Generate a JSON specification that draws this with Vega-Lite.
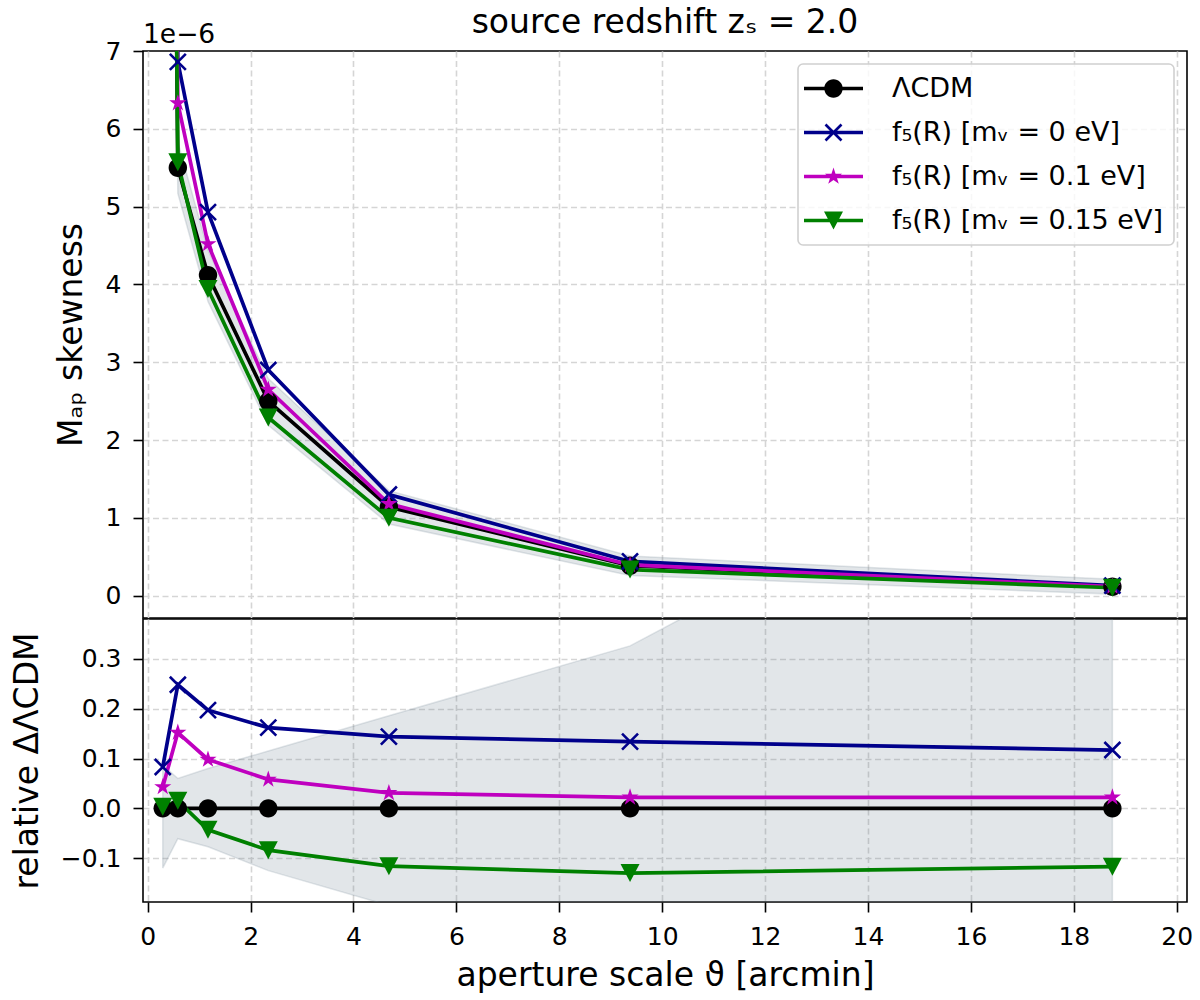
{
  "$schema": "https://vega.github.io/schema/vega-lite/v6.json",
  "background": "white",
  "padding": {"left": 10, "top": 6, "right": 5, "bottom": 5},
  "datasets": {
    "pts": [
      {"x": 0.293, "series": "ΛCDM", "value": 26.0, "rel": 0},
      {"x": 0.586, "series": "ΛCDM", "value": 5.5, "rel": 0},
      {"x": 1.172, "series": "ΛCDM", "value": 4.12, "rel": 0},
      {"x": 2.344, "series": "ΛCDM", "value": 2.5, "rel": 0},
      {"x": 4.688, "series": "ΛCDM", "value": 1.14, "rel": 0},
      {"x": 9.375, "series": "ΛCDM", "value": 0.385, "rel": 0},
      {"x": 18.75, "series": "ΛCDM", "value": 0.115, "rel": 0},
      {"x": 0.293, "series": "f₅(R) [mᵥ = 0 eV]", "value": 28.2, "rel": 0.083},
      {"x": 0.586, "series": "f₅(R) [mᵥ = 0 eV]", "value": 6.86, "rel": 0.248},
      {"x": 1.172, "series": "f₅(R) [mᵥ = 0 eV]", "value": 4.93, "rel": 0.197},
      {"x": 2.344, "series": "f₅(R) [mᵥ = 0 eV]", "value": 2.9, "rel": 0.162},
      {"x": 4.688, "series": "f₅(R) [mᵥ = 0 eV]", "value": 1.3, "rel": 0.144},
      {"x": 9.375, "series": "f₅(R) [mᵥ = 0 eV]", "value": 0.44, "rel": 0.134},
      {"x": 18.75, "series": "f₅(R) [mᵥ = 0 eV]", "value": 0.13, "rel": 0.117},
      {"x": 0.293, "series": "f₅(R) [mᵥ = 0.1 eV]", "value": 27.1, "rel": 0.043},
      {"x": 0.586, "series": "f₅(R) [mᵥ = 0.1 eV]", "value": 6.33, "rel": 0.152},
      {"x": 1.172, "series": "f₅(R) [mᵥ = 0.1 eV]", "value": 4.52, "rel": 0.098},
      {"x": 2.344, "series": "f₅(R) [mᵥ = 0.1 eV]", "value": 2.65, "rel": 0.058},
      {"x": 4.688, "series": "f₅(R) [mᵥ = 0.1 eV]", "value": 1.18, "rel": 0.031},
      {"x": 9.375, "series": "f₅(R) [mᵥ = 0.1 eV]", "value": 0.395, "rel": 0.022},
      {"x": 18.75, "series": "f₅(R) [mᵥ = 0.1 eV]", "value": 0.118, "rel": 0.022},
      {"x": 0.293, "series": "f₅(R) [mᵥ = 0.15 eV]", "value": 26.1, "rel": 0.003},
      {"x": 0.586, "series": "f₅(R) [mᵥ = 0.15 eV]", "value": 5.57, "rel": 0.015},
      {"x": 1.172, "series": "f₅(R) [mᵥ = 0.15 eV]", "value": 3.94, "rel": -0.043},
      {"x": 2.344, "series": "f₅(R) [mᵥ = 0.15 eV]", "value": 2.29, "rel": -0.084},
      {"x": 4.688, "series": "f₅(R) [mᵥ = 0.15 eV]", "value": 1.0, "rel": -0.116},
      {"x": 9.375, "series": "f₅(R) [mᵥ = 0.15 eV]", "value": 0.335, "rel": -0.13},
      {"x": 18.75, "series": "f₅(R) [mᵥ = 0.15 eV]", "value": 0.102, "rel": -0.117}
    ],
    "band": [
      {"x": 0.293, "lo": 22.9, "hi": 28.3, "rlo": -0.12, "rhi": 0.087},
      {"x": 0.586, "lo": 5.17, "hi": 5.83, "rlo": -0.061, "rhi": 0.06},
      {"x": 1.172, "lo": 3.78, "hi": 4.44, "rlo": -0.077, "rhi": 0.08},
      {"x": 2.344, "lo": 2.19, "hi": 2.79, "rlo": -0.125, "rhi": 0.115},
      {"x": 4.688, "lo": 0.92, "hi": 1.35, "rlo": -0.195, "rhi": 0.186},
      {"x": 9.375, "lo": 0.26, "hi": 0.51, "rlo": -0.33, "rhi": 0.326},
      {"x": 18.75, "lo": 0.02, "hi": 0.21, "rlo": -0.84, "rhi": 0.84}
    ]
  },
  "spacing": -2,
  "resolve": {
    "scale": {"x": "independent", "y": "independent", "color": "independent", "shape": "independent"},
    "legend": {"color": "independent", "shape": "independent"}
  },
  "vconcat": [
    {
      "width": 1044,
      "height": 567,
      "title": {
        "text": "source redshift zₛ = 2.0",
        "font": "DejaVu Sans",
        "fontSize": 33,
        "fontWeight": "normal",
        "color": "black",
        "baseline": "alphabetic",
        "offset": -44
      },
      "resolve": {"scale": {"color": "independent", "shape": "independent"}},
      "layer": [
        {
          "data": {"name": "band"},
          "mark": {"type": "area", "fill": "#708090", "fillOpacity": 0.2, "stroke": "#708090", "strokeOpacity": 0.2, "strokeWidth": 1.5, "clip": true},
          "encoding": {
            "x": {
              "field": "x", "type": "quantitative",
              "scale": {"domain": [-0.091, 20.2], "nice": false, "zero": false},
              "axis": {"values": [0, 2, 4, 6, 8, 10, 12, 14, 16, 18, 20], "labels": false, "ticks": false, "title": null}
            },
            "y": {
              "field": "lo", "type": "quantitative",
              "scale": {"domain": [-0.287, 7], "nice": false, "zero": false},
              "axis": {
                "values": [0, 1, 2, 3, 4, 5, 6, 7], "format": "d", "title": "Mₐₚ skewness",
                "titleX": -62, "titleBaseline": "alphabetic", "titleAngle": 270,
                "gridOpacity": {"condition": {"test": "datum.value >= 7", "value": 0}, "value": 1}
              }
            },
            "y2": {"field": "hi"}
          }
        },
        {
          "data": {"name": "pts"},
          "mark": {"type": "line", "strokeWidth": 3.7, "clip": true},
          "encoding": {
            "x": {"field": "x", "type": "quantitative", "title": null},
            "y": {"field": "value", "type": "quantitative", "title": "Mₐₚ skewness"},
            "color": {
              "field": "series", "type": "nominal", "legend": null,
              "scale": {"domain": ["ΛCDM", "f₅(R) [mᵥ = 0 eV]", "f₅(R) [mᵥ = 0.1 eV]", "f₅(R) [mᵥ = 0.15 eV]"], "range": ["#000000", "#00008b", "#bf00bf", "#008000"]}
            }
          }
        },
        {
          "data": {"name": "pts"},
          "mark": {"type": "point", "filled": true, "size": 400, "opacity": 1, "strokeWidth": 0, "clip": true},
          "encoding": {
            "x": {"field": "x", "type": "quantitative", "title": null},
            "y": {"field": "value", "type": "quantitative", "title": "Mₐₚ skewness"},
            "color": {
              "field": "series", "type": "nominal", "legend": null,
              "scale": {"domain": ["ΛCDM", "f₅(R) [mᵥ = 0 eV]", "f₅(R) [mᵥ = 0.1 eV]", "f₅(R) [mᵥ = 0.15 eV]"], "range": ["#000000", "#00008b", "#bf00bf", "#008000"]}
            },
            "shape": {
              "field": "series", "type": "nominal", "legend": null,
              "scale": {
                "domain": ["ΛCDM", "f₅(R) [mᵥ = 0 eV]", "f₅(R) [mᵥ = 0.1 eV]", "f₅(R) [mᵥ = 0.15 eV]"],
                "range": [
                  "M0.92,0A0.92,0.92,0,1,1,-0.92,0A0.92,0.92,0,1,1,0.92,0Z",
                  "M-0.708,-0.892L0.892,0.708L0.708,0.892L-0.892,-0.708ZM-0.708,0.892L-0.892,0.708L0.708,-0.892L0.892,-0.708Z",
                  "M0,-0.9L0.202,-0.278L0.856,-0.278L0.327,0.106L0.529,0.728L0,0.344L-0.529,0.728L-0.327,0.106L-0.856,-0.278L-0.202,-0.278Z",
                  "M-0.95,-0.9L0.95,-0.9L0,0.9Z"
                ]
              }
            }
          }
        },
        {
          "data": {"values": []},
          "mark": {"type": "point", "filled": true, "size": 400, "opacity": 1, "strokeWidth": 0},
          "encoding": {
            "x": {"field": "x", "type": "quantitative", "title": null},
            "y": {"field": "value", "type": "quantitative", "title": "Mₐₚ skewness"},
            "color": {
              "field": "series", "type": "nominal", "title": null,
              "scale": {"domain": ["ΛCDM", "f₅(R) [mᵥ = 0 eV]", "f₅(R) [mᵥ = 0.1 eV]", "f₅(R) [mᵥ = 0.15 eV]"], "range": ["#000000", "#00008b", "#bf00bf", "#008000"]}
            },
            "shape": {
              "field": "series", "type": "nominal", "title": null,
              "scale": {
                "domain": ["ΛCDM", "f₅(R) [mᵥ = 0 eV]", "f₅(R) [mᵥ = 0.1 eV]", "f₅(R) [mᵥ = 0.15 eV]"],
                "range": [
                  "M-2.95,-0.18L2.95,-0.18L2.95,0.18L-2.95,0.18ZM0.92,0A0.92,0.92,0,1,1,-0.92,0A0.92,0.92,0,1,1,0.92,0Z",
                  "M-2.95,-0.18L2.95,-0.18L2.95,0.18L-2.95,0.18ZM-0.708,-0.892L0.892,0.708L0.708,0.892L-0.892,-0.708ZM-0.708,0.892L-0.892,0.708L0.708,-0.892L0.892,-0.708Z",
                  "M-2.95,-0.18L2.95,-0.18L2.95,0.18L-2.95,0.18ZM0,-0.9L0.202,-0.278L0.856,-0.278L0.327,0.106L0.529,0.728L0,0.344L-0.529,0.728L-0.327,0.106L-0.856,-0.278L-0.202,-0.278Z",
                  "M-2.95,-0.18L2.95,-0.18L2.95,0.18L-2.95,0.18ZM-0.95,-0.9L0.95,-0.9L0,0.9Z"
                ]
              }
            }
          }
        },
        {
          "data": {"values": [{"t": "1e−6"}]},
          "mark": {"type": "text", "align": "left", "baseline": "alphabetic", "dy": -8, "fontSize": 26.5, "font": "DejaVu Sans", "color": "black", "clip": false},
          "encoding": {
            "x": {"datum": -0.091, "type": "quantitative"},
            "y": {"datum": 7, "type": "quantitative"},
            "text": {"field": "t"}
          }
        }
      ]
    },
    {
      "width": 1044,
      "height": 283,
      "layer": [
        {
          "data": {"name": "band"},
          "mark": {"type": "area", "fill": "#708090", "fillOpacity": 0.2, "stroke": "#708090", "strokeOpacity": 0.2, "strokeWidth": 1.5, "clip": true},
          "encoding": {
            "x": {
              "field": "x", "type": "quantitative",
              "scale": {"domain": [-0.091, 20.2], "nice": false, "zero": false},
              "axis": {"values": [0, 2, 4, 6, 8, 10, 12, 14, 16, 18, 20], "format": "d", "title": "aperture scale ϑ [arcmin]", "titleY": 83, "titleBaseline": "alphabetic"}
            },
            "y": {
              "field": "rlo", "type": "quantitative",
              "scale": {"domain": [-0.188, 0.38], "nice": false, "zero": false},
              "axis": {"values": [-0.1, 0, 0.1, 0.2, 0.3], "format": ".1f", "title": "relative ΔΛCDM", "titleX": -106, "titleBaseline": "alphabetic", "titleAngle": 270}
            },
            "y2": {"field": "rhi"}
          }
        },
        {
          "data": {"name": "pts"},
          "mark": {"type": "line", "strokeWidth": 3.7, "clip": true},
          "encoding": {
            "x": {"field": "x", "type": "quantitative", "title": "aperture scale ϑ [arcmin]"},
            "y": {"field": "rel", "type": "quantitative", "title": "relative ΔΛCDM"},
            "color": {
              "field": "series", "type": "nominal", "legend": null,
              "scale": {"domain": ["ΛCDM", "f₅(R) [mᵥ = 0 eV]", "f₅(R) [mᵥ = 0.1 eV]", "f₅(R) [mᵥ = 0.15 eV]"], "range": ["#000000", "#00008b", "#bf00bf", "#008000"]}
            }
          }
        },
        {
          "data": {"name": "pts"},
          "mark": {"type": "point", "filled": true, "size": 400, "opacity": 1, "strokeWidth": 0, "clip": true},
          "encoding": {
            "x": {"field": "x", "type": "quantitative", "title": "aperture scale ϑ [arcmin]"},
            "y": {"field": "rel", "type": "quantitative", "title": "relative ΔΛCDM"},
            "color": {"field": "series", "type": "nominal", "legend": null},
            "shape": {
              "field": "series", "type": "nominal", "legend": null,
              "scale": {
                "domain": ["ΛCDM", "f₅(R) [mᵥ = 0 eV]", "f₅(R) [mᵥ = 0.1 eV]", "f₅(R) [mᵥ = 0.15 eV]"],
                "range": [
                  "M0.92,0A0.92,0.92,0,1,1,-0.92,0A0.92,0.92,0,1,1,0.92,0Z",
                  "M-0.708,-0.892L0.892,0.708L0.708,0.892L-0.892,-0.708ZM-0.708,0.892L-0.892,0.708L0.708,-0.892L0.892,-0.708Z",
                  "M0,-0.9L0.202,-0.278L0.856,-0.278L0.327,0.106L0.529,0.728L0,0.344L-0.529,0.728L-0.327,0.106L-0.856,-0.278L-0.202,-0.278Z",
                  "M-0.95,-0.9L0.95,-0.9L0,0.9Z"
                ]
              }
            }
          }
        }
      ]
    }
  ],
  "config": {
    "font": "DejaVu Sans",
    "view": {"stroke": "black", "strokeWidth": 1.6},
    "axis": {
      "labelFont": "DejaVu Sans",
      "labelFontSize": 25,
      "labelColor": "black",
      "titleFont": "DejaVu Sans",
      "titleFontSize": 33,
      "titleFontWeight": "normal",
      "titleColor": "black",
      "grid": true,
      "gridColor": "#d5d5d5",
      "gridDash": [6, 3.5],
      "gridWidth": 1.6,
      "domain": false,
      "tickColor": "black",
      "tickWidth": 1.6,
      "tickSize": 10,
      "labelPadding": 12
    },
    "legend": {
      "orient": "top-right",
      "offset": 13,
      "title": null,
      "labelFont": "DejaVu Sans",
      "labelFontSize": 27,
      "labelColor": "black",
      "labelLimit": 600,
      "symbolSize": 400,
      "symbolOffset": 11,
      "labelOffset": 45,
      "symbolStrokeWidth": 0,
      "symbolOpacity": 1,
      "rowPadding": 16,
      "padding": 11,
      "fillColor": "rgba(255,255,255,0.8)",
      "strokeColor": "#d0d0d0",
      "strokeWidth": 1.6,
      "cornerRadius": 5
    }
  }
}
